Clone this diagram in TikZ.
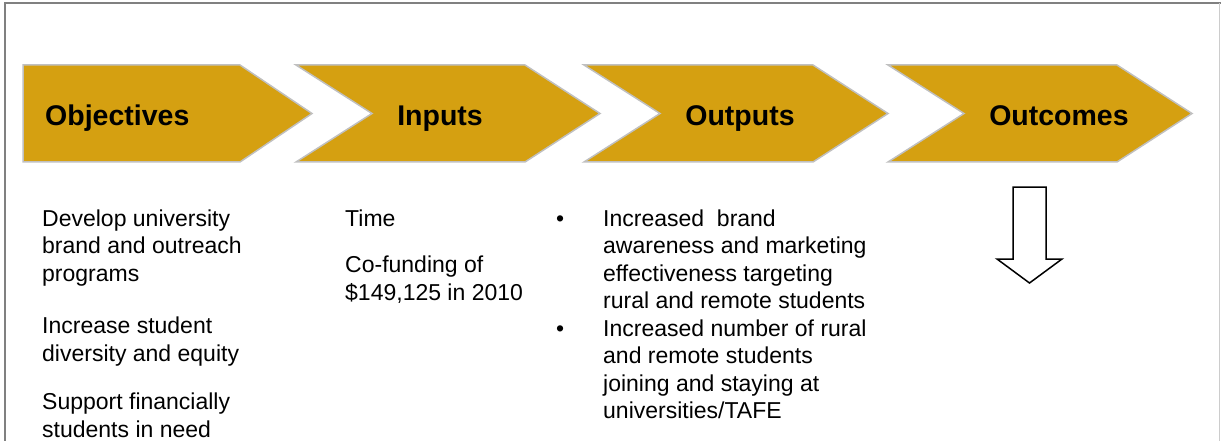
\documentclass[tikz,border=0pt]{standalone}
\usepackage{fontspec}
\setmainfont{Liberation Sans}
\definecolor{chevgold}{RGB}{213,160,17}
\definecolor{chevline}{RGB}{192,192,192}

\begin{document}
\begin{tikzpicture}[x=1pt, y=1pt,
    chevron/.style={fill=chevgold, draw=chevline, line width=1.5pt},
    head/.style={font=\fontsize{28.5}{34}\selectfont\bfseries, inner sep=0pt},
    body/.style={font=\fontsize{23}{27.5}\selectfont, align=left, anchor=base west, inner sep=0pt}]
    \useasboundingbox (0,0) rectangle (1221,-441);

    % frame (open at the bottom)
    \draw[gray, line width=2pt] (5,-441) -- (5,-3) -- (1221,-3);
    \draw[black!20, line width=1pt] (1219,-3) -- (1219,-441);

    % first chevron has a flat back, the others are notched
    \draw[chevron] (23,-65) -- (240,-65) -- (312,-113.5) -- (240,-162) -- (23,-162) -- cycle;
    \foreach \l in {296, 584, 888} {
        \draw[chevron] (\l,-65) -- ++(229,0) -- ++(75,-48.5) -- ++(-75,-48.5)
            -- ++(-229,0) -- ++(76,48.5) -- cycle;
    }

    \node[head, anchor=base west] (obj) at (45,-126) {Objectives};
    \node[head, anchor=base] (inp) at (440,-126) {Inputs};
    \node[head, anchor=base] (outp) at (740,-126) {Outputs};
    \node[head, anchor=base] (outc) at (1059,-126) {Outcomes};

    % body texts: base anchor sits on the last line
    % Objectives
    \node[body] (obj1) at (42,-281) {Develop university\\brand and outreach\\programs};
    \node[body] (obj2) at (42,-361) {Increase student\\diversity and equity};
    \node[body] (obj3) at (42,-437) {Support financially\\students in need};

    % Inputs
    \node[body] (inp1) at (345,-226) {Time};
    \node[body] (inp2) at (345,-300) {Co-funding of\\\$149,125 in 2010};

    % Outputs - two bullets
    \node[body] (bul1) at (556,-226) {•};
    \node[body] (bul2) at (556,-336) {•};
    \node[body] (outp1) at (603,-308.5) {Increased\ \ brand\\awareness and marketing\\effectiveness targeting\\rural and remote students};
    \node[body] (outp2) at (603,-418.5) {Increased number of rural\\and remote students\\joining and staying at\\universities/TAFE};

    % Outcomes - block arrow pointing down
    \draw[line width=1.5pt, fill=white] (1013,-187) -- (1046,-187) -- (1046,-259) -- (1062,-259)
        -- (1029.5,-283) -- (997,-259) -- (1013,-259) -- cycle;
\end{tikzpicture}
\end{document}
